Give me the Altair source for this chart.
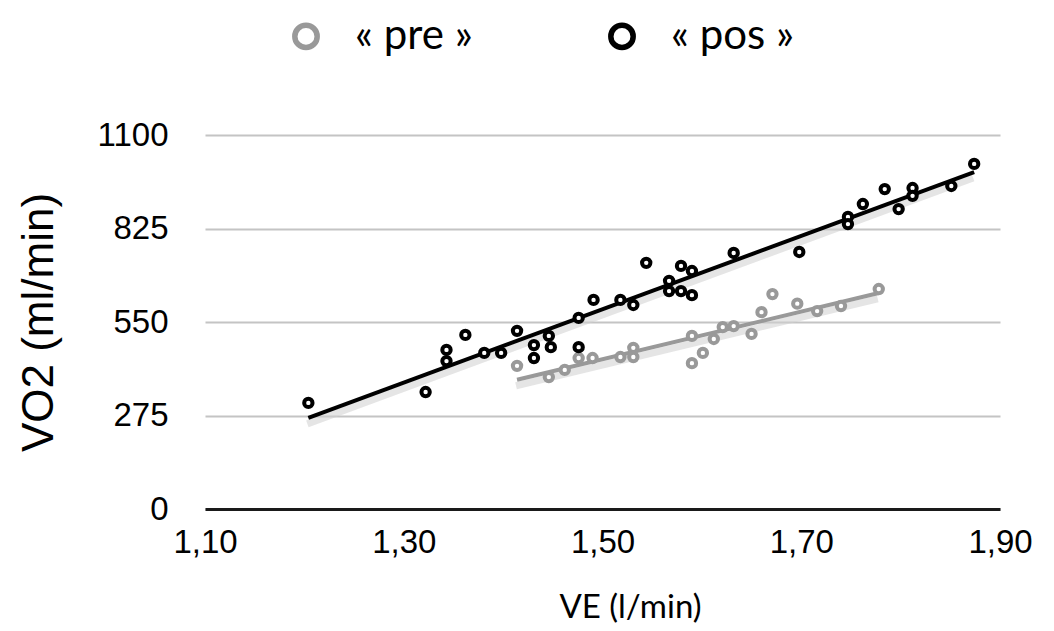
import altair as alt
import pandas as pd

# VE (l/min) and VO2 (ml/min)
pre_ve = [1.414, 1.446, 1.462, 1.476, 1.490, 1.518, 1.531, 1.531, 1.590, 1.590, 1.601,
          1.612, 1.621, 1.632, 1.650, 1.660, 1.671, 1.696, 1.716, 1.740, 1.778]
pre_vo2 = [421, 388, 409, 444, 444, 447, 474, 447, 509, 429, 459,
           500, 535, 538, 515, 579, 632, 604, 582, 597, 647]

pos_ve = [1.204, 1.322, 1.343, 1.343, 1.362, 1.381, 1.398, 1.414, 1.431, 1.431, 1.446, 1.448,
          1.476, 1.476, 1.491, 1.518, 1.531, 1.544, 1.567, 1.567, 1.579, 1.579, 1.590, 1.590,
          1.632, 1.698, 1.747, 1.747, 1.762, 1.784, 1.798, 1.812, 1.812, 1.851, 1.874]
pos_vo2 = [312, 344, 468, 435, 512, 459, 459, 524, 482, 444, 509, 476,
           562, 476, 615, 615, 600, 724, 671, 641, 715, 641, 700, 629,
           753, 756, 859, 838, 897, 941, 882, 944, 921, 950, 1015]

series_names = ["« pre »", "« pos »"]
series_colors = ["#999999", "#000000"]
x_ticks = [1.10, 1.30, 1.50, 1.70, 1.90]
y_ticks = [0, 275, 550, 825, 1100]

df = pd.concat([
    pd.DataFrame({"VE": pre_ve, "VO2": pre_vo2, "serie": series_names[0]}),
    pd.DataFrame({"VE": pos_ve, "VO2": pos_vo2, "serie": series_names[1]}),
], ignore_index=True)

x_enc = alt.X("VE:Q",
              scale=alt.Scale(domain=[1.1, 1.9], nice=False, zero=False),
              axis=alt.Axis(values=x_ticks,
                            labelExpr="replace(format(datum.value, '.2f'), '.', ',')",
                            title="VE (l/min)", grid=False, ticks=False,
                            domain=True, domainColor="#1a1a1a", domainWidth=3,
                            labelFont="Liberation Sans", labelFontSize=33,
                            labelColor="#000000", labelPadding=17,
                            labelFlush=False,
                            titleFont="Lato", titleFontSize=33, titleFontWeight="normal",
                            titleColor="#000000", titleX=425, titleY=108,
                            titleBaseline="alphabetic"))
y_enc = alt.Y("VO2:Q",
              scale=alt.Scale(domain=[0, 1100], nice=False),
              axis=alt.Axis(values=y_ticks, format="d", title="VO2 (ml/min)", grid=True,
                            gridColor="#c4c4c4", gridWidth=2, ticks=False, domain=False,
                            labelFont="Liberation Sans", labelFontSize=33,
                            labelColor="#000000", labelPadding=37,
                            titleFont="Liberation Sans", titleFontSize=44,
                            titleFontWeight="normal", titleColor="#000000",
                            titleX=-153, titleBaseline="alphabetic"))

base = alt.Chart(df)

layers = []
for name, col in zip(series_names, series_colors):
    reg = base.transform_filter(alt.datum.serie == name).transform_regression("VE", "VO2")
    layers.append(reg.mark_line(strokeWidth=7, opacity=0.55, yOffset=6, xOffset=-1,
                                strokeCap="butt", color="#cfcfcf").encode(x=x_enc, y=y_enc))
for name, col in zip(series_names, series_colors):
    reg = base.transform_filter(alt.datum.serie == name).transform_regression("VE", "VO2")
    layers.append(reg.mark_line(strokeWidth=4, strokeCap="butt", color=col)
                  .encode(x=x_enc, y=y_enc))

points = base.mark_point(
    filled=False, shape="circle", size=70, strokeWidth=4, fill="white", fillOpacity=1, opacity=1
).encode(
    x=x_enc, y=y_enc,
    color=alt.Color("serie:N",
                    scale=alt.Scale(domain=series_names, range=series_colors),
                    legend=alt.Legend(title=None, orient="none", direction="horizontal",
                                      legendX=80, legendY=-120,
                                      symbolType="circle", symbolSize=500,
                                      symbolStrokeWidth=5.5, symbolFillColor="white",
                                      symbolOpacity=1,
                                      labelFont="Lato", labelFontSize=42,
                                      labelColor="#000000", labelOffset=28,
                                      columnPadding=126, padding=0)),
)
layers.append(points)

chart = alt.layer(*layers).properties(
    width=795, height=374,
    background="white",
    autosize=alt.AutoSizeParams(type="none"),
    padding={"left": 197, "top": 127, "right": 46, "bottom": 114},
).configure_view(stroke=None)

chart.save("out.html", embed_options={"renderer": "svg", "actions": False})
